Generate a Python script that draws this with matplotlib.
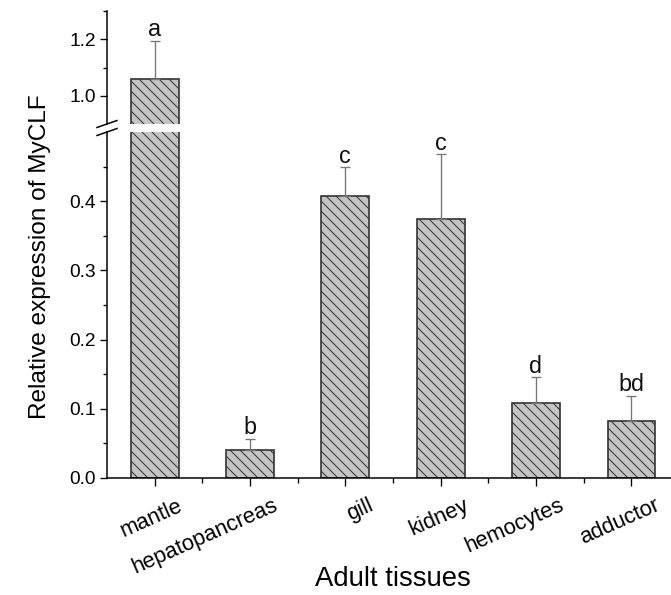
import matplotlib
matplotlib.use("Agg")
import matplotlib.pyplot as plt
import matplotlib.transforms as mtransforms
from matplotlib.ticker import FixedLocator
import numpy as np

# ---- data ----
categories = ["mantle", "hepatopancreas", "gill", "kidney", "hemocytes", "adductor"]
values = [1.06, 0.041, 0.407, 0.375, 0.109, 0.083]
errors = [0.135, 0.016, 0.042, 0.093, 0.037, 0.036]
letters = ["a", "b", "c", "c", "d", "bd"]
low_ticks = [0.0, 0.1, 0.2, 0.3, 0.4]
high_ticks = [1.0, 1.2]

plt.rcParams['font.family'] = ['Liberation Sans', 'DejaVu Sans']
plt.rcParams['hatch.linewidth'] = 0.6

DPI = 120
W, H = 671, 595
fig = plt.figure(figsize=(W / DPI, H / DPI), dpi=DPI)

left = 107 / W
width = 572 / W
ax_lo = fig.add_axes([left, (H - 478) / H, width, 346 / H])
ax_hi = fig.add_axes([left, (H - 124) / H, width, 113 / H])

x = np.arange(1, len(categories) + 1)
face = '#c4c4c4'
edge = '#333333'

for ax in (ax_lo, ax_hi):
    ax.bar(x, values, width=0.5, color=face, edgecolor=edge, linewidth=1.0,
           hatch='\\\\\\\\', zorder=2)
    ax.errorbar(x, values, yerr=[np.zeros(len(values)), errors], fmt='none',
                ecolor='#777777', elinewidth=0.8, capsize=3, capthick=0.8, zorder=3)
    ax.set_xlim(0.5, 6.5)
    for s in ('top', 'right'):
        ax.spines[s].set_visible(False)
    ax.spines['left'].set_linewidth(0.9)
    ax.spines['bottom'].set_linewidth(0.9)
    ax.tick_params(axis='y', which='major', direction='out', length=4.5, width=0.8,
                   labelsize=11.5, pad=2)
    ax.tick_params(axis='y', which='minor', direction='out', length=2.5, width=0.8)
    for xi, v, e, lt in zip(x, values, errors, letters):
        ax.annotate(lt, (xi, v + e), xytext=(0, 2.5), textcoords='offset points',
                    ha='center', va='baseline', fontsize=14, color='#111111',
                    annotation_clip=True)

# lower axis
ax_lo.set_ylim(0, 0.5)
ax_lo.yaxis.set_major_locator(FixedLocator(low_ticks))
ax_lo.set_yticklabels([f"{t:.1f}" for t in low_ticks])
ax_lo.yaxis.set_minor_locator(FixedLocator([0.05, 0.15, 0.25, 0.35, 0.45]))
ax_lo.set_xticks(x)
ax_lo.xaxis.set_minor_locator(FixedLocator([1.5, 2.5, 3.5, 4.5, 5.5, 6.5]))
ax_lo.tick_params(axis='x', which='major', direction='out', length=4.8, width=0.8,
                  pad=5.5, labelsize=13.2)
ax_lo.tick_params(axis='x', which='minor', direction='out', length=3, width=0.8)
labels = ax_lo.set_xticklabels(categories, rotation=24, ha='right', va='top',
                               rotation_mode='anchor')
shift = mtransforms.ScaledTranslation(23 / DPI, 0, fig.dpi_scale_trans)
for lab in labels:
    lab.set_transform(lab.get_transform() + shift)

# upper axis
ax_hi.set_ylim(0.9, 1.3)
ax_hi.yaxis.set_major_locator(FixedLocator(high_ticks))
ax_hi.set_yticklabels([f"{t:.1f}" for t in high_ticks])
ax_hi.yaxis.set_minor_locator(FixedLocator([1.1, 1.3]))
ax_hi.spines['bottom'].set_visible(False)
ax_hi.tick_params(axis='x', which='both', bottom=False, labelbottom=False)

# break marks
dx_lo, dy_lo = 10 / 572, 3.5 / 346
dx_hi, dy_hi = 10 / 572, 3.5 / 113
ax_lo.plot([-dx_lo, dx_lo], [1 - dy_lo, 1 + dy_lo], transform=ax_lo.transAxes,
           color='black', lw=0.9, clip_on=False)
ax_hi.plot([-dx_hi, dx_hi], [-dy_hi, dy_hi], transform=ax_hi.transAxes,
           color='black', lw=0.9, clip_on=False)

# axis labels
fig.text(40 / W, (H - 257) / H, "Relative expression of MyCLF", rotation=90,
         ha='center', va='center', fontsize=14.6)
fig.text(393 / W, (H - 579) / H, "Adult tissues", ha='center', va='center',
         fontsize=16.5)

fig.savefig("out.png", dpi=DPI)
